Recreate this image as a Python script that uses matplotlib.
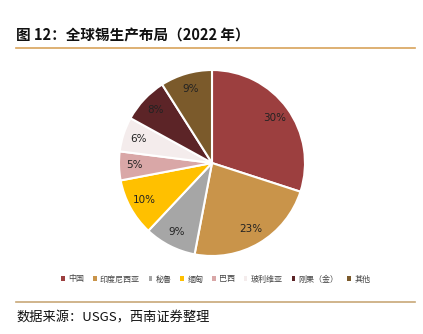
import matplotlib.pyplot as plt
from matplotlib.lines import Line2D
from matplotlib.patches import Patch

plt.rcParams['font.family'] = ['Noto Sans CJK SC', 'DejaVu Sans']

labels = ['中国', '印度尼西亚', '秘鲁', '缅甸', '巴西', '玻利维亚', '刚果（金）', '其他']
shares = [30, 23, 9, 10, 5, 6, 8, 9]
colors = ['#9C3F3F', '#C9944A', '#A6A6A6', '#FFC000', '#D9A7A7', '#F4ECEC', '#5C2427', '#7B5A2B']

fig = plt.figure(figsize=(4.23, 3.34), dpi=100)

# title + rules
fig.text(16/423, 1 - 35/334, '图 12：全球锡生产布局（2022 年）', fontsize=10.5,
         fontweight='bold', va='center', ha='left', color='#111111')
fig.add_artist(Line2D([16/423, 415/423], [1 - 48/334] * 2, color='#D8A35B', lw=1.2))
fig.add_artist(Line2D([16/423, 415/423], [1 - 302/334] * 2, color='#C8A878', lw=1.2))
fig.text(16/423, 1 - 318/334, '数据来源：USGS，西南证券整理', fontsize=9.5,
         style='italic', va='center', ha='left', color='#111111')

# pie
cx, cy, r = 212/423, 1 - 163/334, 93
w, h = r/423, r/334
ax = fig.add_axes([cx - w, cy - h, 2*w, 2*h])
wedges, texts, autotexts = ax.pie(shares, colors=colors, startangle=90, counterclock=False,
                                  autopct='%d%%', pctdistance=0.83,
                                  wedgeprops=dict(edgecolor='white', linewidth=1.5),
                                  textprops=dict(fontsize=7.5, color='#222222', family='DejaVu Sans'))
ax.set_xlim(-1, 1)
ax.set_ylim(-1, 1)
ax.set_aspect('equal')

handles = [Patch(facecolor=c, edgecolor='none') for c in colors]
fig.legend(handles, labels, loc='center', bbox_to_anchor=(0.51, 1 - 279/334), ncol=8,
           frameon=False, fontsize=5.8, handlelength=0.45, handleheight=0.45,
           handletextpad=0.4, columnspacing=1.1, labelcolor='#444444')

fig.savefig('out.png', dpi=100)
